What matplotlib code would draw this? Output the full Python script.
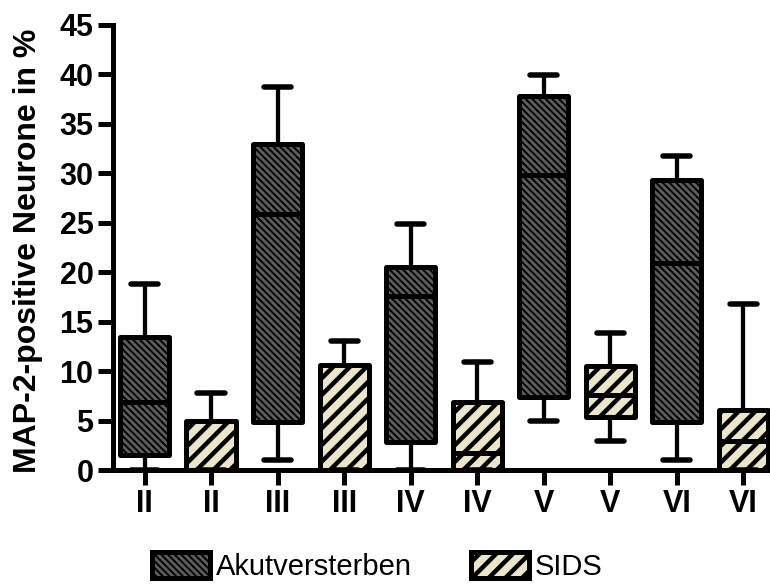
import numpy as np
import matplotlib
matplotlib.use('Agg')
import matplotlib.pyplot as plt
from matplotlib.patches import Patch

plt.rcParams['font.family'] = ['Liberation Sans', 'DejaVu Sans']
plt.rcParams['hatch.linewidth'] = 1.4

# layer labels, one per box
layers = ['II', 'II', 'III', 'III', 'IV', 'IV', 'V', 'V', 'VI', 'VI']

# box statistics: whisker low, Q1, median, Q3, whisker high
akut_lo = [0, 1, 0, 5, 1]
akut_q1 = [1.5, 4.9, 2.8, 7.4, 4.9]
akut_med = [6.9, 25.9, 17.6, 29.8, 20.9]
akut_q3 = [13.4, 33.0, 20.5, 37.8, 29.3]
akut_hi = [18.8, 38.7, 24.9, 39.9, 31.8]

sids_lo = [0, 0, 0, 2.9, 0]
sids_q1 = [0, 0, 0, 5.4, 0]
sids_med = [0, 0, 1.7, 7.6, 2.9]
sids_q3 = [5.0, 10.6, 6.9, 10.5, 6.1]
sids_hi = [7.8, 13.0, 10.9, 13.9, 16.8]

akut_color = '#5e5e5e'
sids_color = '#ebe5cb'
akut_hatch = '\\' * 5
sids_hatch = '//'
lw = 3.6


def make_stats(lo, q1, med, q3, hi):
    return [dict(whislo=a, q1=b, med=c, q3=d, whishi=e, fliers=[])
            for a, b, c, d, e in zip(lo, q1, med, q3, hi)]


fig = plt.figure(figsize=(7.7, 5.85), dpi=100)
ax = fig.add_axes([113 / 770, (585 - 470) / 585, 1 - 113 / 770, 445 / 585])

groups = [
    (make_stats(akut_lo, akut_q1, akut_med, akut_q3, akut_hi), [1, 3, 5, 7, 9],
     akut_color, akut_hatch, 1.4),
    (make_stats(sids_lo, sids_q1, sids_med, sids_q3, sids_hi), [2, 4, 6, 8, 10],
     sids_color, sids_hatch, 3.2),
]
for stats, pos, col, hatch, hlw in groups:
    bp = ax.bxp(stats, positions=pos, widths=0.74, patch_artist=True,
                showfliers=False,
                boxprops=dict(facecolor=col, edgecolor='black', linewidth=lw,
                              hatch=hatch, joinstyle='round'),
                medianprops=dict(color='black', linewidth=lw),
                whiskerprops=dict(color='black', linewidth=lw * 0.85),
                capprops=dict(color='black', linewidth=lw * 1.1,
                              solid_capstyle='round'),
                capwidths=0.41)
    for b in bp['boxes']:
        if hasattr(b, 'set_hatch_linewidth'):
            b.set_hatch_linewidth(hlw)

ax.set_xlim(0.526, 10.4)
ax.set_ylim(0, 45)
ax.set_yticks(np.arange(0, 46, 5))
ax.set_xticks(range(1, 11))
ax.set_xticklabels(layers)

for s in ['top', 'right']:
    ax.spines[s].set_visible(False)
for s in ['left', 'bottom']:
    ax.spines[s].set_linewidth(lw)
    ax.spines[s].set_zorder(5)

ax.tick_params(axis='both', width=lw, length=11, labelsize=22)
ax.tick_params(axis='y', pad=3)
ax.tick_params(axis='x', pad=3)
for t in ax.get_xticklabels() + ax.get_yticklabels():
    t.set_fontweight('bold')

ax.set_ylabel('MAP-2-positive Neurone in %', fontsize=23, fontweight='bold')
ax.yaxis.set_label_coords((43 - 113) / (770 - 113), 0.493)

handles = [
    Patch(facecolor=akut_color, edgecolor='black', hatch=akut_hatch, linewidth=lw,
          label='Akutversterben'),
    Patch(facecolor=sids_color, edgecolor='black', hatch=sids_hatch, linewidth=lw,
          label='SIDS'),
]
leg = fig.legend(handles=handles, loc='upper center', bbox_to_anchor=(0.49, 0.076),
                 ncol=2, frameon=False, fontsize=21, handlelength=2.0,
                 handleheight=1.0, handletextpad=0.2, columnspacing=2.0,
                 borderaxespad=0)
for p in leg.get_patches():
    if hasattr(p, 'set_hatch_linewidth'):
        p.set_hatch_linewidth(1.4 if p.get_hatch() == akut_hatch else 3.2)

fig.savefig('out.png', dpi=100)
